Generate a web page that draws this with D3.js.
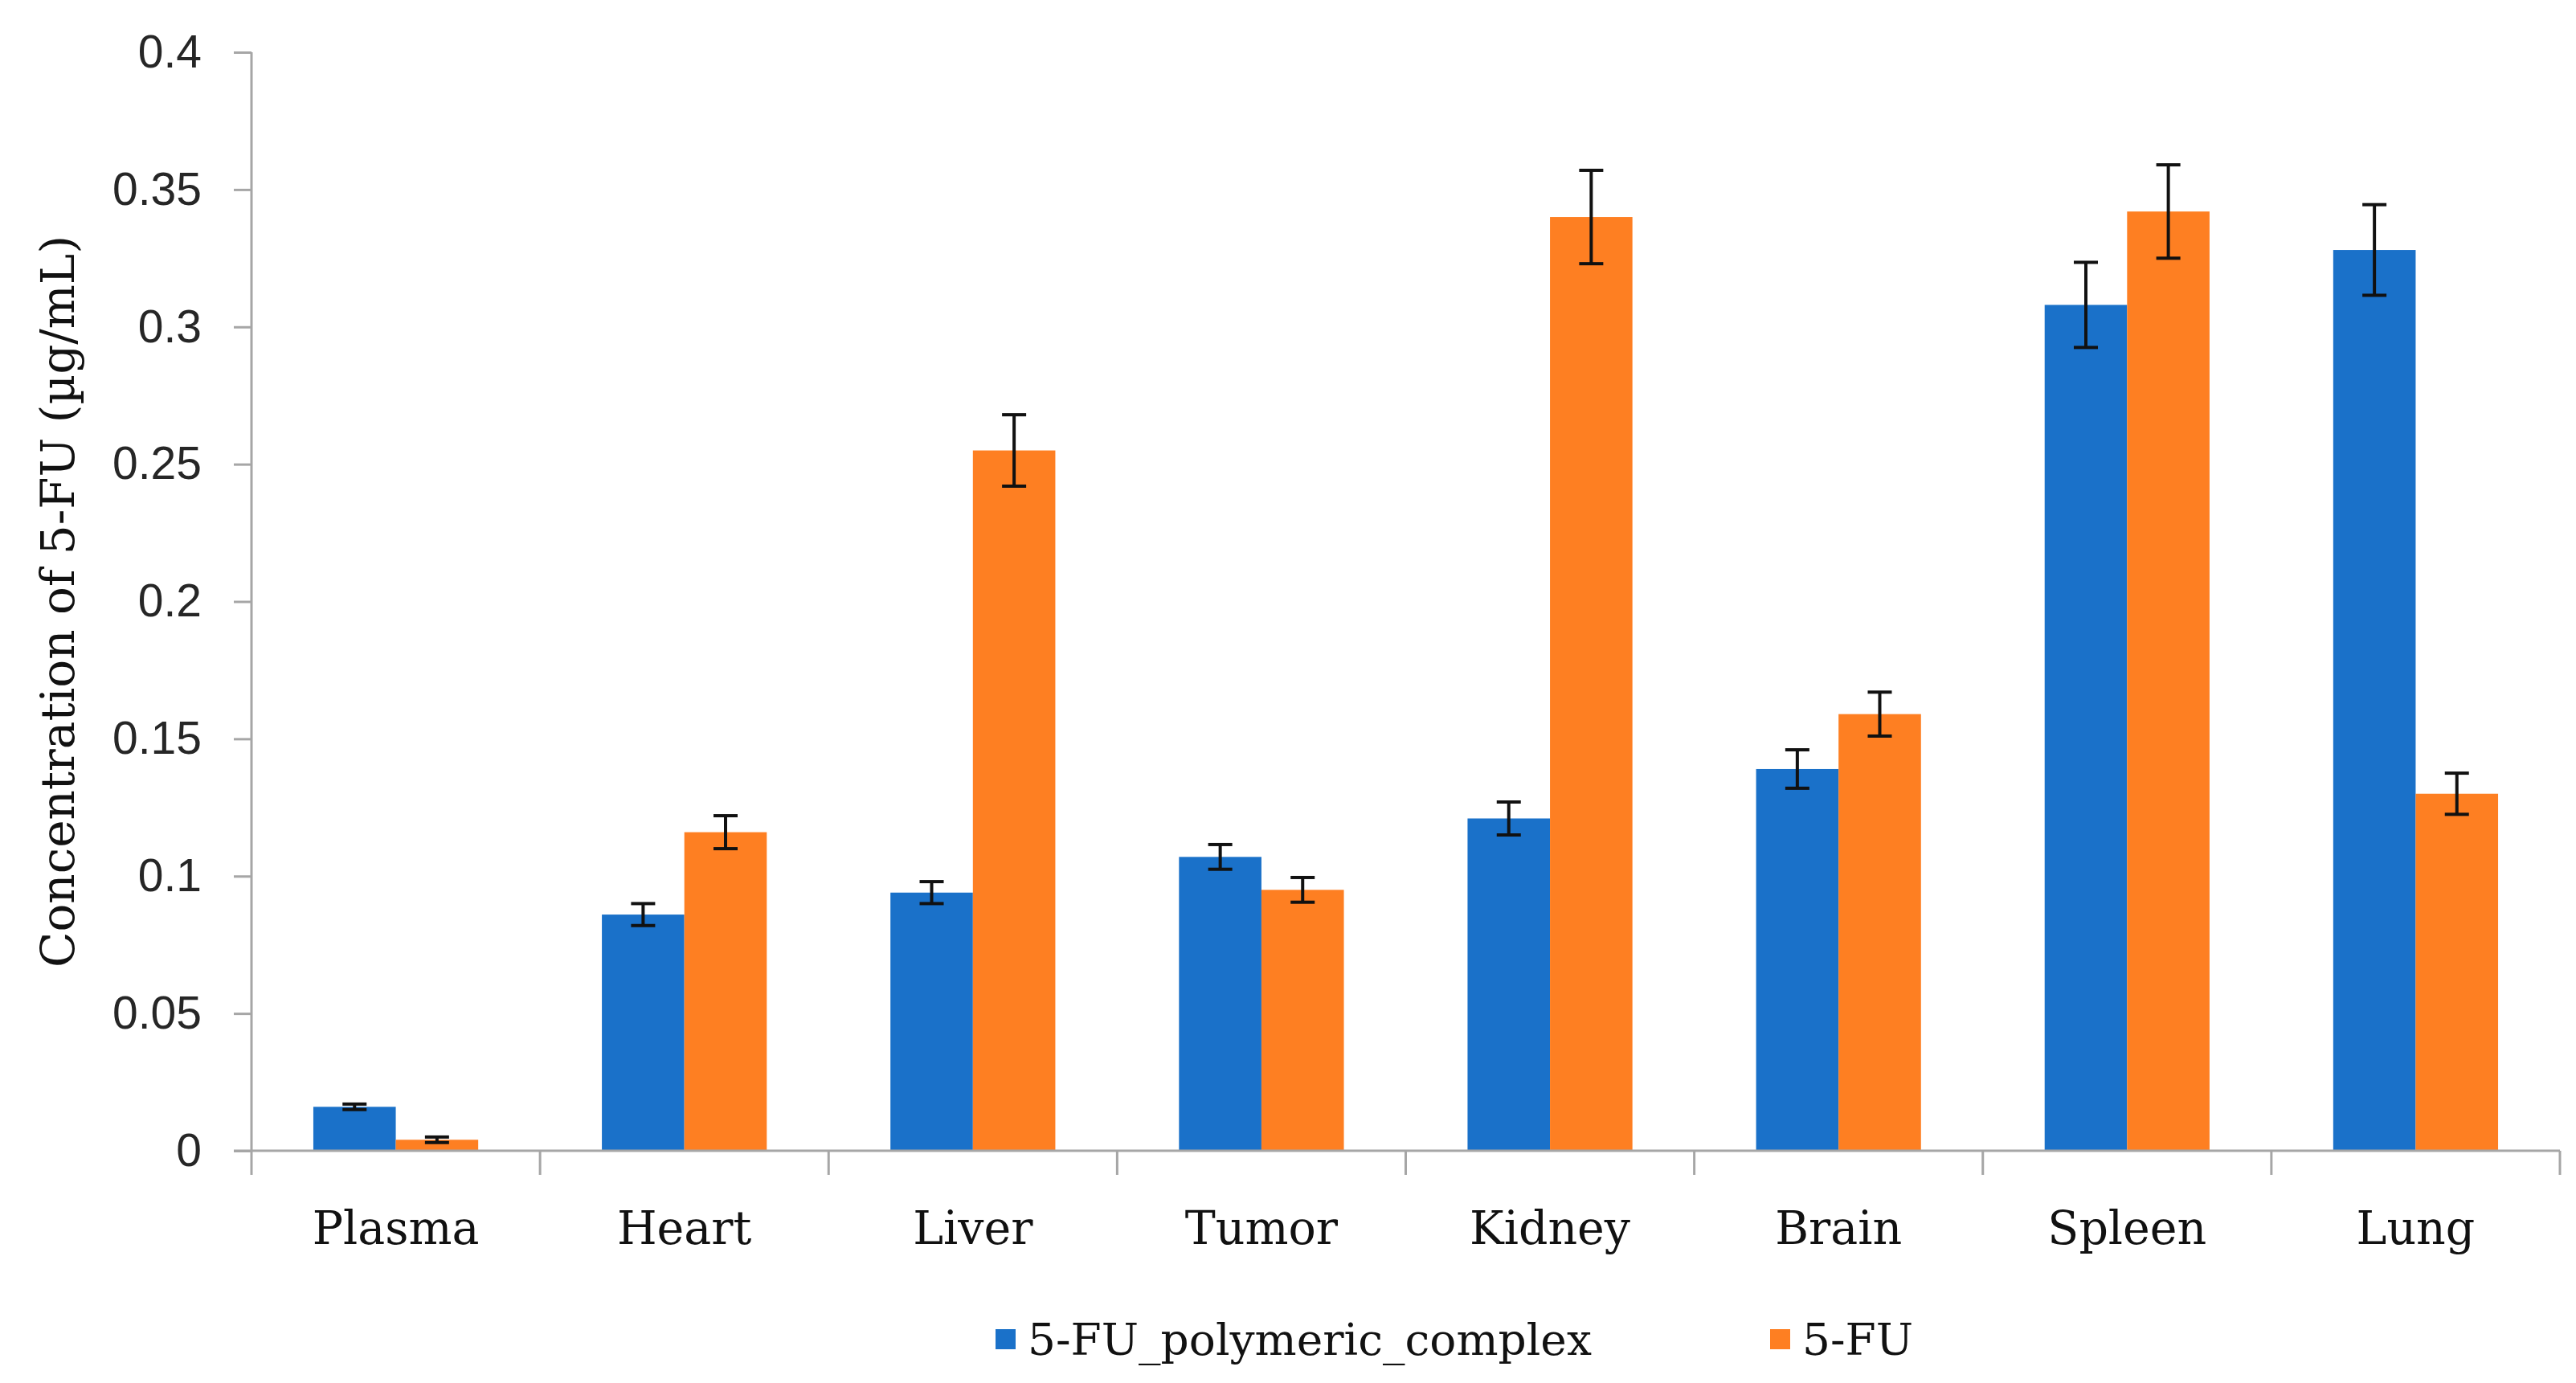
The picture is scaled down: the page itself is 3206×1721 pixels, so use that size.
<!DOCTYPE html>
<html>
<head>
<meta charset="utf-8">
<script src="https://cdn.jsdelivr.net/npm/d3@7"></script>
<style>
  body { margin: 0; background: #fff; }
  svg { display: block; }
</style>
</head>
<body>
<svg id="chart" width="3206" height="1721"></svg>
<script>
// organ distribution of 5-FU
const organs = ["Plasma", "Heart", "Liver", "Tumor", "Kidney", "Brain", "Spleen", "Lung"];
const seriesNames = ["5-FU_polymeric_complex", "5-FU"];
const complexVals = [0.016, 0.086, 0.094, 0.107, 0.121, 0.139, 0.308, 0.328];
const complexErr  = [0.001, 0.004, 0.004, 0.0045, 0.006, 0.007, 0.0155, 0.0165];
const freeVals    = [0.004, 0.116, 0.255, 0.095, 0.340, 0.159, 0.342, 0.130];
const freeErr     = [0.001, 0.006, 0.013, 0.0045, 0.017, 0.008, 0.017, 0.0075];
const yTicks = [0, 0.05, 0.1, 0.15, 0.2, 0.25, 0.3, 0.35, 0.4];
const colors = ["#1a71c9", "#fe7f22"];

(function(d3) {
  const svg = d3.select("#chart");
  const plotL = 313, plotR = 3186, plotT = 65, plotB = 1432;
  const axisColor = "#a6a6a6";

  const x = d3.scaleBand().domain(organs).range([plotL, plotR]).padding(0);
  const xs = d3.scaleBand().domain(seriesNames).range([0, x.bandwidth()])
    .paddingInner(0).paddingOuter(0.75);
  const y = d3.scaleLinear().domain([0, 0.4]).range([plotB, plotT]);

  const rows = [];
  organs.forEach(function(o, i) {
    rows.push({ organ: o, s: seriesNames[0], v: complexVals[i], e: complexErr[i], c: colors[0] });
    rows.push({ organ: o, s: seriesNames[1], v: freeVals[i], e: freeErr[i], c: colors[1] });
  });

  // y axis
  const yAxis = svg.append("g")
    .attr("transform", `translate(${plotL},0)`)
    .call(d3.axisLeft(y).tickValues(yTicks).tickSize(22).tickPadding(40)
      .tickFormat(d => d === 0 ? "0" : String(+d.toFixed(2))));
  yAxis.select(".domain").attr("stroke", axisColor).attr("stroke-width", 3)
    .attr("d", `M0,${plotT}V${plotB}`);
  yAxis.selectAll(".tick line").attr("stroke", axisColor).attr("stroke-width", 3);
  yAxis.selectAll(".tick text")
    .attr("font-family", "'Liberation Sans', Arial, sans-serif")
    .attr("font-size", 57).attr("fill", "#262626");

  // bars
  svg.append("g").selectAll("rect")
    .data(rows)
    .enter()
    .append("rect")
      .attr("x", d => x(d.organ) + xs(d.s))
      .attr("y", d => y(d.v))
      .attr("width", xs.bandwidth())
      .attr("height", d => y(0) - y(d.v))
      .attr("fill", d => d.c);

  // x axis
  const xAxis = svg.append("g")
    .attr("transform", `translate(0,${plotB})`);
  xAxis.append("line")
    .attr("x1", plotL - 22).attr("x2", plotR)
    .attr("stroke", axisColor).attr("stroke-width", 3);
  xAxis.selectAll(".sep")
    .data(organs.concat(["end"]))
    .enter()
    .append("line")
      .attr("x1", (d, i) => plotL + i * x.step())
      .attr("x2", (d, i) => plotL + i * x.step())
      .attr("y1", 0).attr("y2", 30)
      .attr("stroke", axisColor).attr("stroke-width", 3);
  xAxis.selectAll(".lbl")
    .data(organs)
    .enter()
    .append("text")
      .attr("x", d => x(d) + x.bandwidth() / 2)
      .attr("y", 116)
      .attr("text-anchor", "middle")
      .attr("font-family", "'DejaVu Serif', serif")
      .attr("font-size", 57)
      .attr("fill", "#111")
      .text(d => d);

  // error bars
  const eb = svg.append("g").attr("stroke", "#111").attr("stroke-width", 4);
  rows.forEach(function(d) {
    const cx = x(d.organ) + xs(d.s) + xs.bandwidth() / 2;
    eb.append("line").attr("x1", cx).attr("x2", cx)
      .attr("y1", y(d.v - d.e)).attr("y2", y(d.v + d.e));
    [d.v - d.e, d.v + d.e].forEach(function(v) {
      eb.append("line").attr("x1", cx - 15).attr("x2", cx + 15)
        .attr("y1", y(v)).attr("y2", y(v));
    });
  });

  // y title
  svg.append("text")
    .attr("transform", `translate(92,${(plotT + plotB) / 2}) rotate(-90)`)
    .attr("text-anchor", "middle")
    .attr("font-family", "'DejaVu Serif', serif")
    .attr("font-size", 58)
    .attr("fill", "#111")
    .text("Concentration of 5-FU (µg/mL)");

  // legend
  const legX = [1239, 2203];
  const leg = svg.append("g").selectAll("g")
    .data(seriesNames)
    .enter()
    .append("g")
      .attr("transform", (d, i) => `translate(${legX[i]},1654)`);
  leg.append("rect").attr("width", 25).attr("height", 25)
    .attr("fill", (d, i) => colors[i]);
  leg.append("text")
    .attr("x", 40).attr("y", 32)
    .attr("font-family", "'DejaVu Serif', serif")
    .attr("font-size", 55)
    .attr("fill", "#111")
    .text(d => d);
})(d3);
</script>
</body>
</html>
